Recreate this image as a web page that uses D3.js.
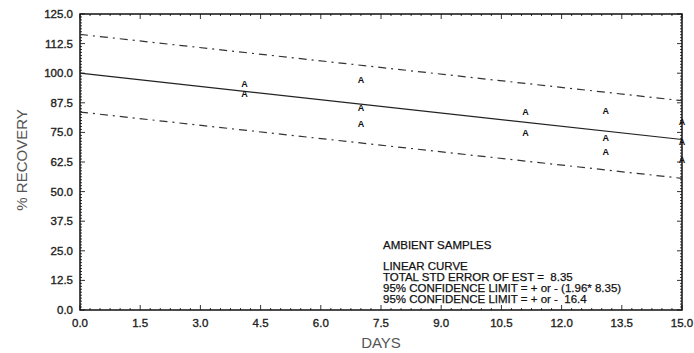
<!DOCTYPE html>
<html>
<head>
<meta charset="utf-8">
<script src="https://cdn.jsdelivr.net/npm/d3@7"></script>
<style>
  body { margin: 0; background: #fff; }
  text { font-family: "Liberation Sans", Arial, sans-serif; }
</style>
</head>
<body>
<svg id="chart"></svg>
<script>
// data
const sampleDays = [4.1, 4.1, 7, 7, 7, 11.1, 11.1, 13.1, 13.1, 13.1, 15, 15, 15];
const sampleRecovery = [95.5, 91.5, 97.2, 85.4, 78.7, 83.8, 74.9, 84.2, 72.8, 66.9, 79.5, 71.1, 63.6];
const fitDays = [0, 15];
const fitRecovery = [100, 72];
const confLimit = 16.4;
const xTickValues = [0, 1.5, 3, 4.5, 6, 7.5, 9, 10.5, 12, 13.5, 15];
const yTickValues = [0, 12.5, 25, 37.5, 50, 62.5, 75, 87.5, 100, 112.5, 125];
const noteLines = [
  "AMBIENT SAMPLES",
  "",
  "LINEAR CURVE",
  "TOTAL STD ERROR OF EST =  8.35",
  "95% CONFIDENCE LIMIT = + or - (1.96* 8.35)",
  "95% CONFIDENCE LIMIT = + or -  16.4"
];

const width = 694, height = 353;
const svg = d3.select("#chart").attr("width", width).attr("height", height);

const x = d3.scaleLinear().domain([0, 15]).range([80, 682]);
const y = d3.scaleLinear().domain([0, 125]).range([310, 14]);

// minor ticks, pointing inward on all four sides
const minorX = d3.range(0, 15.001, 0.25);
const minorY = d3.range(0, 125.001, 1.25);
const ticks = svg.append("g").attr("stroke", "#333").attr("stroke-width", 1);
ticks.selectAll(".mxb").data(minorX).join("line")
  .attr("x1", d => x(d)).attr("x2", d => x(d))
  .attr("y1", y(0)).attr("y2", d => y(0) - (xTickValues.includes(d) ? 5 : 2));
ticks.selectAll(".mxt").data(minorX).join("line")
  .attr("x1", d => x(d)).attr("x2", d => x(d))
  .attr("y1", y(125)).attr("y2", d => y(125) + (xTickValues.includes(d) ? 5 : 2));
ticks.selectAll(".myl").data(minorY).join("line")
  .attr("y1", d => y(d)).attr("y2", d => y(d))
  .attr("x1", x(0)).attr("x2", d => x(0) + (yTickValues.includes(d) ? 5 : 2));
ticks.selectAll(".myr").data(minorY).join("line")
  .attr("y1", d => y(d)).attr("y2", d => y(d))
  .attr("x1", x(15)).attr("x2", d => x(15) - (yTickValues.includes(d) ? 5 : 2));

// frame
svg.append("rect")
  .attr("x", x(0)).attr("y", y(125))
  .attr("width", x(15) - x(0)).attr("height", y(0) - y(125))
  .attr("fill", "none").attr("stroke", "#111").attr("stroke-width", 1.5);

// tick labels (a thin stroke makes them look like the scanned print)
const fmt = d3.format(".1f");
svg.append("g").selectAll("text").data(yTickValues).join("text")
  .attr("x", 73).attr("y", d => y(d) + 4)
  .attr("text-anchor", "end").attr("font-size", 11.5).attr("fill", "#222")
  .attr("stroke", "#222").attr("stroke-width", 0.35)
  .text(fmt);
svg.append("g").selectAll("text").data(xTickValues).join("text")
  .attr("x", d => x(d)).attr("y", 327)
  .attr("text-anchor", "middle").attr("font-size", 11.5).attr("fill", "#222")
  .attr("stroke", "#222").attr("stroke-width", 0.35)
  .text(fmt);

// axis titles
svg.append("text")
  .attr("transform", "translate(27,160) rotate(-90)")
  .attr("text-anchor", "middle").attr("font-size", 15).attr("fill", "#555")
  .text("% RECOVERY");
svg.append("text")
  .attr("x", 381).attr("y", 348)
  .attr("text-anchor", "middle").attr("font-size", 15).attr("fill", "#555")
  .text("DAYS");

// regression line and confidence limits
const fit = fitDays.map((d, i) => [d, fitRecovery[i]]);
const line = d3.line().x(d => x(d[0])).y(d => y(d[1]));
svg.append("path").attr("d", line(fit))
  .attr("fill", "none").attr("stroke", "#222").attr("stroke-width", 1.2);
[confLimit, -confLimit].forEach(off => {
  svg.append("path").attr("d", line(fit.map(p => [p[0], p[1] + off])))
    .attr("fill", "none").attr("stroke", "#333").attr("stroke-width", 1.2)
    .attr("stroke-dasharray", "8,5,2,5");
});

// sample points drawn as "A"
svg.append("g").selectAll("text").data(sampleDays).join("text")
  .attr("x", d => x(d)).attr("y", (d, i) => y(sampleRecovery[i]) + 3.5)
  .attr("text-anchor", "middle").attr("font-size", 9).attr("font-weight", "bold")
  .attr("fill", "#111")
  .text("A");

// notes
svg.append("g").selectAll("text").data(noteLines).join("text")
  .attr("x", 383).attr("y", (d, i) => i === 0 ? 249 : 248 + i * 11)
  .attr("font-size", 11.5).attr("fill", "#111")
  .attr("stroke", "#111").attr("stroke-width", 0.25)
  .attr("xml:space", "preserve")
  .style("white-space", "pre")
  .text(d => d);
</script>
</body>
</html>
